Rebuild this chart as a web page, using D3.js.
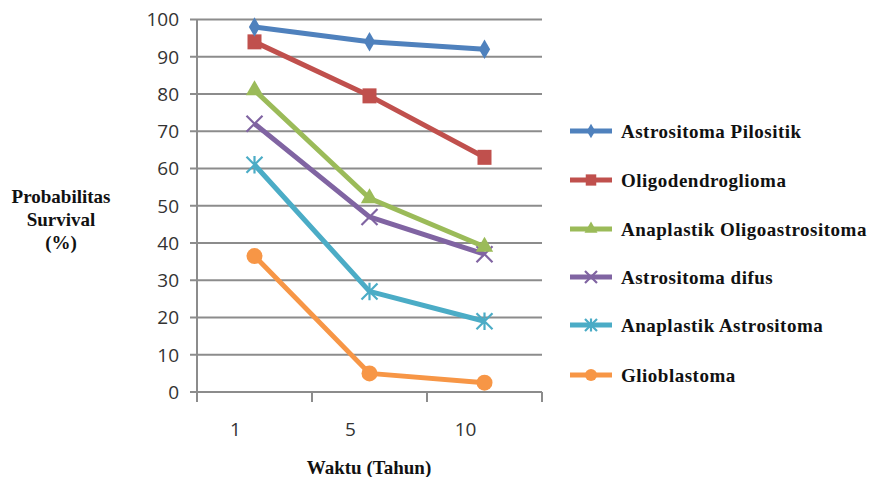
<!DOCTYPE html>
<html><head><meta charset="utf-8">
<script src="https://cdn.jsdelivr.net/npm/d3@7"></script>
<style>body{margin:0;background:#fff}svg{display:block}</style>
</head><body>
<svg id="c" width="873" height="477"></svg>
<script>
const categories = ["1", "5", "10"];
const seriesNames = ["Astrositoma Pilositik","Oligodendroglioma","Anaplastik Oligoastrositoma","Astrositoma difus","Anaplastik Astrositoma","Glioblastoma"];
const pilositik = [98, 94, 92];
const oligodendroglioma = [94, 79.5, 63];
const anaplastikOligo = [81, 52, 39];
const difus = [72, 47, 37];
const anaplastikAstro = [61, 27, 19];
const glioblastoma = [36.5, 5, 2.5];
const yTicks = [0,10,20,30,40,50,60,70,80,90,100];
const colors = ["#4F81BD","#C0504D","#9BBB59","#8064A2","#4BACC6","#F79646"];
const markers = ["diamond","square","triangle","x","star","circle"];
const seriesValues = [pilositik, oligodendroglioma, anaplastikOligo, difus, anaplastikAstro, glioblastoma];

const svg = d3.select("#c");
const x = d3.scaleBand().domain(categories).range([197, 542]);
const y = d3.scaleLinear().domain([0, 100]).range([392, 19.5]);

svg.append("g").selectAll("line").data(yTicks).join("line")
  .attr("x1", 190).attr("x2", 542)
  .attr("y1", d => y(d)).attr("y2", d => y(d))
  .attr("stroke", "#8c8c8c").attr("stroke-width", 2);
svg.append("line").attr("x1",197).attr("x2",197).attr("y1",y(100)).attr("y2",402)
  .attr("stroke","#8c8c8c").attr("stroke-width",2);
const xt = x.domain().map(d => x(d)).concat([x.range()[1]]);
svg.append("g").selectAll("line").data(xt.slice(1)).join("line")
  .attr("x1", d=>d).attr("x2", d=>d).attr("y1", 392).attr("y2", 402)
  .attr("stroke","#8c8c8c").attr("stroke-width",2);
svg.append("g").selectAll("text").data(yTicks).join("text")
  .attr("x", 179).attr("y", d => y(d)).attr("dy","0.36em")
  .attr("text-anchor","end").attr("font-family","Open Sans").attr("font-size",19)
  .attr("fill","#333").text(d=>d);
svg.append("g").selectAll("text").data(categories).join("text")
  .attr("x", d => x(d) + x.bandwidth()/2 - 19).attr("y", 429).attr("dy","0.36em")
  .attr("text-anchor","middle").attr("font-family","Open Sans").attr("font-size",19)
  .attr("fill","#333").text(d=>d);

function drawMarker(g, type, color, cx, cy, s) {
  s = s || 1;
  if (type === "diamond") {
    g.append("path").attr("d", d3.symbol(d3.symbolDiamond, 110*s*s)()).attr("transform",`translate(${cx},${cy})`).attr("fill",color);
  } else if (type === "square") {
    g.append("rect").attr("x",cx-7*s).attr("y",cy-7.5*s).attr("width",14*s).attr("height",15*s).attr("fill",color);
  } else if (type === "triangle") {
    g.append("path").attr("d", d3.symbol(d3.symbolTriangle, 130*s*s)()).attr("transform",`translate(${cx},${cy})`).attr("fill",color);
  } else if (type === "x") {
    const r = 8*s;
    g.append("path").attr("d",`M${cx-r},${cy-r}L${cx+r},${cy+r}M${cx-r},${cy+r}L${cx+r},${cy-r}`).attr("stroke",color).attr("stroke-width",2.2);
  } else if (type === "star") {
    const r = 8*s;
    g.append("path").attr("d",`M${cx-r},${cy-r}L${cx+r},${cy+r}M${cx-r},${cy+r}L${cx+r},${cy-r}M${cx},${cy-r*1.1}L${cx},${cy+r*1.1}`).attr("stroke",color).attr("stroke-width",2.2);
  } else if (type === "circle") {
    g.append("circle").attr("cx",cx).attr("cy",cy).attr("r",8*s).attr("fill",color);
  }
}

const line = d3.line().x((d,i) => x(categories[i]) + x.bandwidth()/2).y(d => y(d));
for (let k = seriesValues.length-1; k >= 0; k--) {
  const g = svg.append("g");
  g.append("path").attr("d", line(seriesValues[k])).attr("fill","none")
    .attr("stroke", colors[k]).attr("stroke-width", 5).attr("stroke-linejoin","round");
  seriesValues[k].forEach((v,i) => drawMarker(g, markers[k], colors[k], x(categories[i]) + x.bandwidth()/2, y(v), 1));
}

const legY = [131, 180, 229, 277, 325, 375];
seriesNames.forEach((name,k) => {
  const g = svg.append("g");
  g.append("line").attr("x1",570).attr("x2",612).attr("y1",legY[k]).attr("y2",legY[k])
    .attr("stroke",colors[k]).attr("stroke-width",5);
  drawMarker(g, markers[k], colors[k], 591, legY[k], 0.75);
  g.append("text").attr("x",621).attr("y",legY[k]).attr("dy","0.35em")
    .attr("font-family","Liberation Serif").attr("font-weight","bold").attr("font-size",19)
    .attr("letter-spacing",0.5).attr("fill","#111").text(name);
});

const yTitle = ["Probabilitas","Survival","(%)"];
svg.append("g").selectAll("text").data(yTitle).join("text")
  .attr("x", 61).attr("y",(d,i)=>196 + i*23).attr("dy","0.35em").attr("text-anchor","middle")
  .attr("font-family","Liberation Serif").attr("font-weight","bold").attr("font-size",19)
  .attr("fill","#111").text(d=>d);
svg.append("text").attr("x",369).attr("y",467).attr("dy","0.35em").attr("text-anchor","middle")
  .attr("font-family","Liberation Serif").attr("font-weight","bold").attr("font-size",19)
  .attr("fill","#111").text("Waktu (Tahun)");
</script>
</body></html>
